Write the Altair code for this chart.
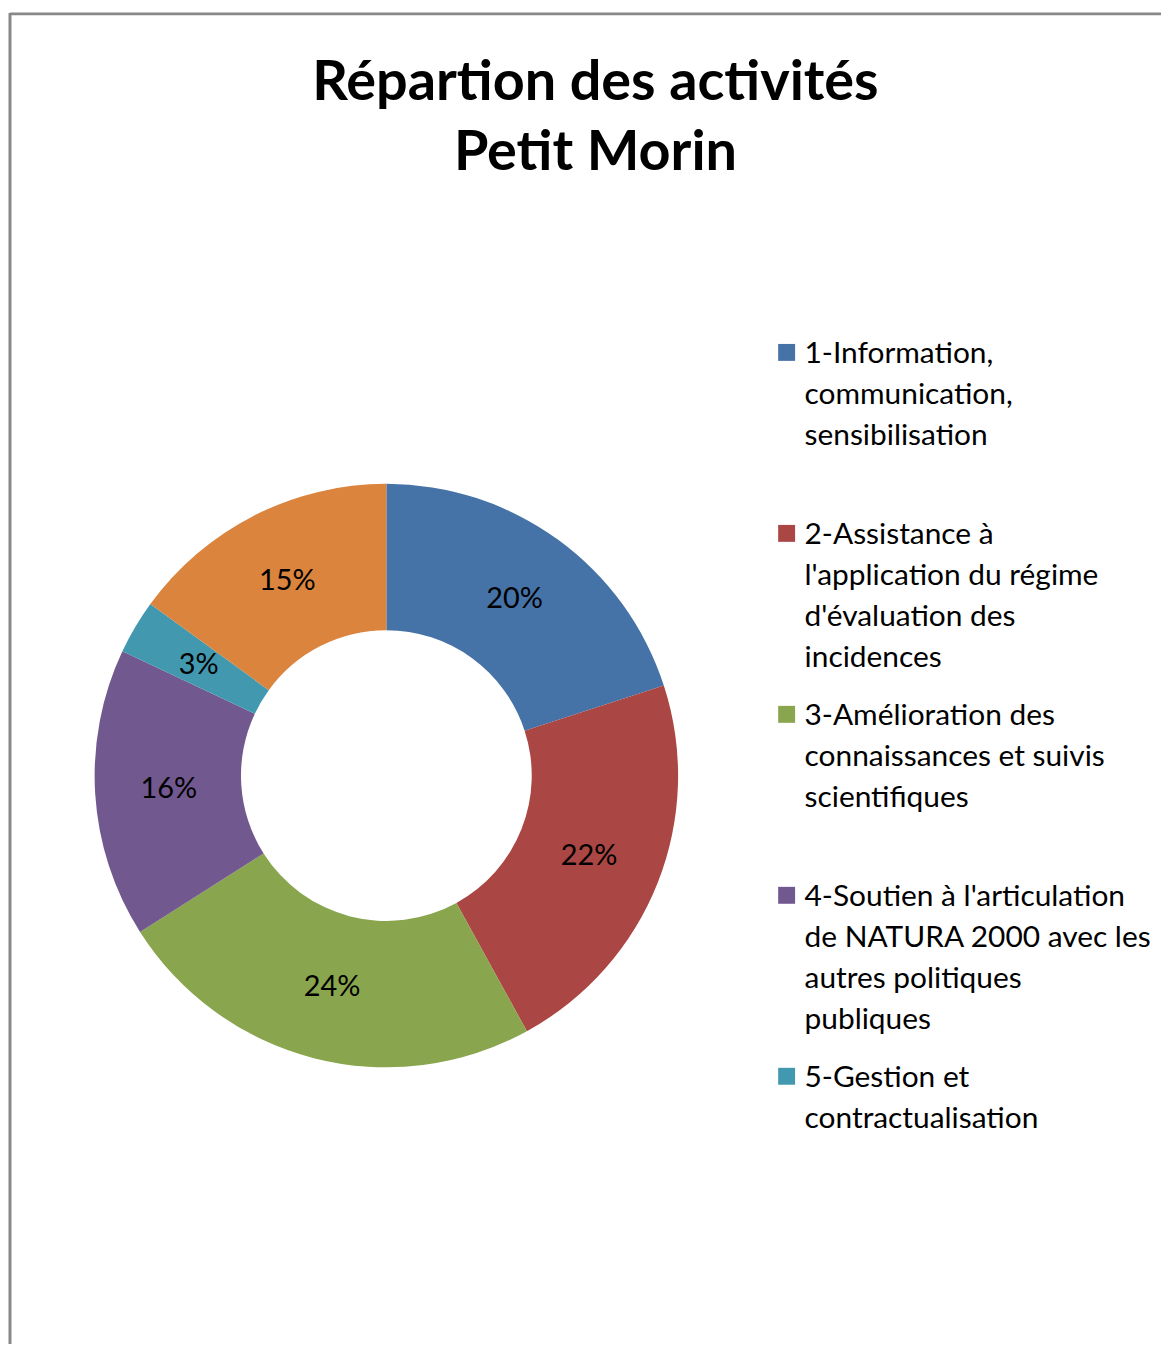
import altair as alt
import pandas as pd

# Data
categories = [
    "1-Information, communication, sensibilisation",
    "2-Assistance à l'application du régime d'évaluation des incidences",
    "3-Amélioration des connaissances et suivis scientifiques",
    "4-Soutien à l'articulation de NATURA 2000 avec les autres politiques publiques",
    "5-Gestion et contractualisation",
    "6-Autres",
]
values = [20, 22, 24, 16, 3, 15]
colors = ["#4572A7", "#AA4643", "#89A54E", "#71588F", "#4198AF", "#DB843D"]

legend_labels = [
    "1-Information,\ncommunication,\nsensibilisation",
    "2-Assistance à\nl'application du régime\nd'évaluation des\nincidences",
    "3-Amélioration des\nconnaissances et suivis\nscientifiques",
    "4-Soutien à l'articulation\nde NATURA 2000 avec les\nautres politiques\npubliques",
    "5-Gestion et\ncontractualisation",
]

title_text = "Répartion des activités\nPetit Morin"
FONT = "Lato"

df = pd.DataFrame({
    "idx": list(range(len(categories))),
    "cat": categories,
    "val": values,
    "label": [f"{v}%" for v in values],
})
leg = pd.DataFrame({
    "idx": list(range(len(legend_labels))),
    "cat": categories[: len(legend_labels)],
    "text": legend_labels,
})

color_scale = alt.Scale(domain=categories, range=colors)
CX, CY = 377, 768

base = alt.Chart(df).encode(
    theta=alt.Theta("val:Q", stack=True),
    order=alt.Order("idx:Q"),
    x=alt.value(CX),
    y=alt.value(CY),
)
arcs = base.mark_arc(radius=293, radius2=146, stroke=None).encode(
    color=alt.Color("cat:N", scale=color_scale, legend=None)
)
pct = base.mark_text(radius=219, font=FONT, fontSize=29, color="#000000").encode(
    text="label:N"
)

title = alt.Chart(pd.DataFrame({"t": [title_text]})).mark_text(
    font=FONT, fontSize=56, fontWeight="bold", lineBreak="\n", lineHeight=71,
    baseline="alphabetic", align="center", color="#000000",
).encode(text="t:N", x=alt.value(587), y=alt.value(89))

yscale = alt.Scale(domain=[0, 4], range=[354, 1081])
leg_sq = alt.Chart(leg).mark_square(size=289, opacity=1, yOffset=-11).encode(
    x=alt.value(779),
    y=alt.Y("idx:Q", scale=yscale, axis=None),
    color=alt.Color("cat:N", scale=color_scale, legend=None),
)
leg_txt = alt.Chart(leg).mark_text(
    font=FONT, fontSize=30, lineBreak="\n", lineHeight=41, align="left",
    baseline="alphabetic", color="#000000",
).encode(
    x=alt.value(797),
    y=alt.Y("idx:Q", scale=yscale, axis=None),
    text="text:N",
)

frame_top = alt.Chart(pd.DataFrame({"a": [0]})).mark_rule(
    color="#888888", strokeWidth=3
).encode(x=alt.value(-1), x2=alt.value(1155), y=alt.value(3))
frame_left = alt.Chart(pd.DataFrame({"a": [0]})).mark_rule(
    color="#888888", strokeWidth=3
).encode(x=alt.value(-1), y=alt.value(2), y2=alt.value(1339))

chart = alt.layer(
    frame_top, frame_left, arcs, pct, title, leg_sq, leg_txt
).properties(
    width=1155, height=1339, padding=0, background="white"
).configure_view(stroke=None)

chart.save("out.html", embed_options={"renderer": "svg", "actions": False})
